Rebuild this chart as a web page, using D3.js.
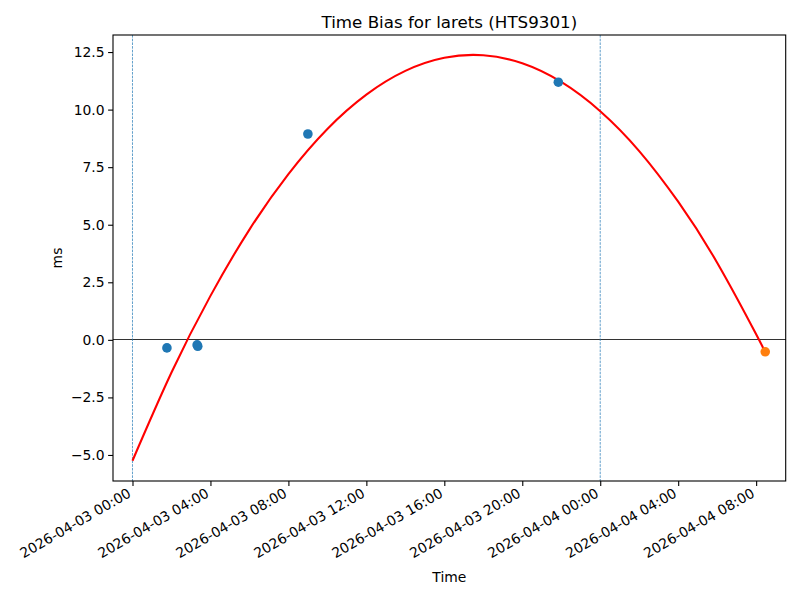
<!DOCTYPE html>
<html>
<head>
<meta charset="utf-8">
<script src="https://cdn.jsdelivr.net/npm/d3@7"></script>
<style>
  body { margin: 0; background: #fff; }
  svg text { font-family: "DejaVu Sans", sans-serif; fill: #000; }
</style>
</head>
<body>
<div class="chart"></div>
<script>
// measured time bias (ms)
var obsTimes = ["2026-04-03T01:46", "2026-04-03T03:19", "2026-04-03T03:21", "2026-04-03T09:00", "2026-04-03T21:51"];
var obsValues = [-0.35, -0.22, -0.28, 8.94, 11.19];

// latest point
var lastTimes = ["2026-04-04T08:28"];
var lastValues = [-0.52];

var fitTimes = ["2026-04-03T00:00", "2026-04-03T02:00", "2026-04-03T04:00", "2026-04-03T06:00",
  "2026-04-03T08:00", "2026-04-03T10:00", "2026-04-03T12:00", "2026-04-03T14:00",
  "2026-04-03T16:00", "2026-04-03T18:00", "2026-04-03T20:00", "2026-04-03T22:00",
  "2026-04-04T00:00", "2026-04-04T02:00", "2026-04-04T04:00", "2026-04-04T06:00",
  "2026-04-04T08:00", "2026-04-04T08:24"];
var fitValues = [-5.25, -1.42, 1.91, 4.79, 7.20, 9.16, 10.65, 11.68, 12.25, 12.36,
  12.01, 11.20, 9.93, 8.20, 6.00, 3.35, 0.24, -0.44];

// day boundaries
var dayLines = ["2026-04-03T00:00", "2026-04-04T00:00"];

var yTicks = [-5, -2.5, 0, 2.5, 5, 7.5, 10, 12.5];

var parse = d3.utcParse("%Y-%m-%dT%H:%M");

var margin = { top: 35, right: 14.3, bottom: 119, left: 113 },
    width = 800,
    height = 600,
    innerW = width - margin.left - margin.right,
    innerH = height - margin.top - margin.bottom;

var obs = obsTimes.map((t, i) => ({ t: parse(t), v: obsValues[i] }));
var last = lastTimes.map((t, i) => ({ t: parse(t), v: lastValues[i] }));
var fit = fitTimes.map((t, i) => ({ t: parse(t), v: fitValues[i] }));

var hour = 3600 * 1000;
var tMin = d3.min(fit.concat(obs, last), d => d.t),
    tMax = d3.max(fit.concat(obs, last), d => d.t);
var x = d3.scaleUtc()
    .domain([new Date(+tMin - hour), new Date(+tMax + 1.05 * hour)])
    .range([0, innerW]);

var vMin = d3.min(fit.concat(obs, last), d => d.v),
    vMax = d3.max(fit.concat(obs, last), d => d.v),
    pad = (vMax - vMin) * 0.05;
var y = d3.scaleLinear()
    .domain([vMin - pad, vMax + pad])
    .range([innerH, 0]);

var svg = d3.select(".chart").append("svg")
    .attr("width", width)
    .attr("height", height);

svg.append("text")
    .attr("x", margin.left + innerW / 2)
    .attr("y", 28)
    .attr("text-anchor", "middle")
    .style("font-size", "16.7px")
    .text("Time Bias for larets (HTS9301)");

var g = svg.append("g")
    .attr("transform", `translate(${margin.left},${margin.top})`);

// zero line
g.append("line")
    .attr("x1", 0).attr("x2", innerW)
    .attr("y1", y(0)).attr("y2", y(0))
    .attr("stroke", "#000")
    .attr("stroke-width", 0.8)
    .attr("shape-rendering", "crispEdges");

g.selectAll(".day")
    .data(dayLines)
    .enter().append("line")
    .attr("class", "day")
    .attr("x1", d => x(parse(d))).attr("x2", d => x(parse(d)))
    .attr("y1", 0).attr("y2", innerH)
    .attr("stroke", "#1f77b4")
    .attr("stroke-width", 0.7)
    .attr("stroke-dasharray", "2.6,1.1");

var line = d3.line()
    .x(d => x(d.t))
    .y(d => y(d.v))
    .curve(d3.curveNatural);

g.append("path")
    .datum(fit)
    .attr("fill", "none")
    .attr("stroke", "red")
    .attr("stroke-width", 2.08)
    .attr("d", line);

g.selectAll(".obs")
    .data(obs)
    .enter().append("circle")
    .attr("class", "obs")
    .attr("cx", d => x(d.t))
    .attr("cy", d => y(d.v))
    .attr("r", 4.8)
    .attr("fill", "#1f77b4");

g.selectAll(".last")
    .data(last)
    .enter().append("circle")
    .attr("class", "last")
    .attr("cx", d => x(d.t))
    .attr("cy", d => y(d.v))
    .attr("r", 4.8)
    .attr("fill", "#ff7f0e");

// axes frame
g.append("rect")
    .attr("width", innerW)
    .attr("height", innerH)
    .attr("fill", "none")
    .attr("stroke", "#000")
    .attr("stroke-width", 1.1);

var fmt = d3.utcFormat("%Y-%m-%d %H:%M");
var xAxis = g.append("g")
    .attr("transform", `translate(0,${innerH})`)
    .call(d3.axisBottom(x).ticks(d3.utcHour.every(4)).tickSize(4.9).tickPadding(0).tickFormat(fmt));
xAxis.select(".domain").remove();
xAxis.selectAll(".tick line").attr("stroke-width", 1.1);
xAxis.selectAll(".tick text")
    .style("font-size", "13.9px")
    .attr("text-anchor", "end")
    .attr("dy", null)
    .attr("y", 0)
    .attr("transform", "translate(-1,15) rotate(-30)");

var yAxis = g.append("g")
    .call(d3.axisLeft(y).tickValues(yTicks).tickSize(4.9).tickPadding(3.5)
      .tickFormat(d => d3.format(".1f")(d).replace("-", "\u2212")));
yAxis.select(".domain").remove();
yAxis.selectAll(".tick line").attr("stroke-width", 1.1);
yAxis.selectAll(".tick text").style("font-size", "13.9px");

svg.append("text")
    .attr("x", margin.left + innerW / 2)
    .attr("y", 582)
    .attr("text-anchor", "middle")
    .style("font-size", "13.9px")
    .text("Time");

svg.append("text")
    .attr("transform", `translate(62,${margin.top + innerH / 2}) rotate(-90)`)
    .attr("text-anchor", "middle")
    .style("font-size", "13.9px")
    .text("ms");
</script>
</body>
</html>
